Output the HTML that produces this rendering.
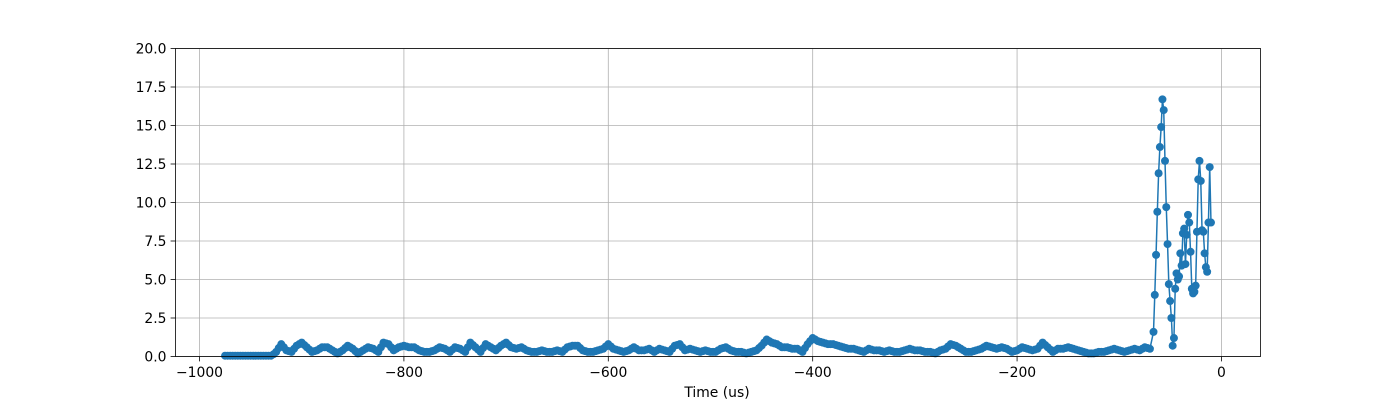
<!DOCTYPE html>
<html><head><meta charset="utf-8"><style>
body{margin:0;background:#fff}
svg text{font-family:"DejaVu Sans","Liberation Sans",sans-serif;font-size:13.9px;fill:#000}
</style></head><body>
<svg id="chart" width="1400" height="400" xmlns="http://www.w3.org/2000/svg">
<rect width="1400" height="400" fill="#fff"/>
<g id="grid"></g>
<g id="series"></g>
<rect x="175.5" y="48.5" width="1085" height="308" fill="none" stroke="#000" stroke-width="0.8"/>
<g id="ticks"></g>
<text x="717" y="397" text-anchor="middle">Time (us)</text>
</svg>
<script>
const baseStart = -975, baseStep = 2.5;
const baseValues = [0.05,0.05,0.05,0.05,0.05,0.05,0.05,0.05,0.05,0.05,0.05,0.05,0.05,0.05,0.05,0.05,0.05,0.05,0.05,0.15,
0.3,0.55,0.8,0.6,0.4,0.35,0.3,0.5,0.7,0.8,0.9,0.75,0.6,0.45,0.3,0.35,0.4,0.5,0.6,0.6,0.6,0.5,0.4,0.3,0.2,0.3,0.4,0.55,0.7,0.6,0.5,0.35,0.2,0.3,0.4,0.5,0.6,0.55,0.5,0.4,0.3,0.6,0.9,0.85,0.8,0.6,0.4,0.5,0.6,0.65,0.7,0.65,0.6,0.6,0.6,0.5,0.4,0.35,0.3,0.3,0.3,0.35,0.4,0.5,0.6,0.55,0.5,0.4,0.3,0.45,0.6,0.55,0.5,0.4,0.3,0.6,0.9,0.75,0.6,0.45,0.3,0.55,0.8,0.7,0.6,0.5,0.4,0.55,0.7,0.8,0.9,0.75,0.6,0.55,0.5,0.55,0.6,0.5,0.4,0.35,0.3,0.3,0.3,0.35,0.4,0.35,0.3,0.3,0.3,0.35,0.4,0.35,0.3,0.45,0.6,0.65,0.7,0.7,0.7,0.55,0.4,0.35,0.3,0.3,0.3,0.35,0.4,0.45,0.5,0.65,0.8,0.65,0.5,0.45,0.4,0.35,0.3,0.35,0.4,0.5,0.6,0.5,0.4,0.4,0.4,0.45,0.5,0.4,0.3,0.4,0.5,0.45,0.4,0.35,0.3,0.5,0.7,0.75,0.8,0.6,0.4,0.45,0.5,0.45,0.4,0.35,0.3,0.35,0.4,0.35,0.3,0.3,0.3,0.4,0.5,0.55,0.6,0.5,0.4,0.35,0.3,0.3,0.3,0.25,0.2,0.25,0.3,0.35,0.4,0.55,0.7,0.9,1.1,1.0,0.9,0.85,0.8,0.7,0.6,0.6,0.6,0.55,0.5,0.5,0.5,0.4,0.3,0.55,0.8,1.0,1.2,1.1,1.0,0.95,0.9,0.85,0.8,0.8,0.8,0.75,0.7,0.65,0.6,0.55,0.5,0.5,0.5,0.45,0.4,0.35,0.3,0.4,0.5,0.45,0.4,0.4,0.4,0.35,0.3,0.35,0.4,0.35,0.3,0.3,0.3,0.35,0.4,0.45,0.5,0.45,0.4,0.4,0.4,0.35,0.3,0.3,0.3,0.25,0.2,0.3,0.4,0.45,0.5,0.65,0.8,0.75,0.7,0.6,0.5,0.4,0.3,0.3,0.3,0.35,0.4,0.45,0.5,0.6,0.7,0.65,0.6,0.55,0.5,0.55,0.6,0.55,0.5,0.4,0.3,0.35,0.4,0.5,0.6,0.55,0.5,0.45,0.4,0.45,0.5,0.7,0.9,0.75,0.6,0.45,0.3,0.4,0.5,0.5,0.5,0.55,0.6,0.55,0.5,0.45,0.4,0.35,0.3,0.25,0.2,0.2,0.2,0.25,0.3,0.3,0.3,0.35,0.4,0.45,0.5,0.45,0.4,0.35,0.3,0.35,0.4,0.45,0.5,0.45,0.4,0.5,0.6,0.55,0.5];
const peakTimes = [-66.5,-65.25,-64,-62.75,-61.5,-60.25,-59,-57.75,-56.5,-55.25,-54,-52.75,-51.5,-50.25,-49,-47.75,-46.5,-45.25,-44,-42.75,-41.5,-40.25,-39,-37.75,-36.5,-35.25,-34,-32.75,-31.5,-30.25,-29,-27.75,-26.5,-25.25,-24,-22.75,-21.5,-20.25,-19,-17.75,-16.5,-15.25,-14,-12.75,-11.5,-10.25];
const peakValues = [1.6,4.0,6.6,9.4,11.9,13.6,14.9,16.7,16.0,12.7,9.7,7.3,4.7,3.6,2.5,0.7,1.2,4.4,5.4,5.0,5.2,6.7,5.9,8.0,8.3,6.0,7.9,9.2,8.7,6.8,4.4,4.1,4.2,4.6,8.1,11.5,12.7,11.4,8.2,8.1,6.7,5.8,5.5,8.7,12.3,8.7];
const xTicks = [-1000,-800,-600,-400,-200,0];
const yTicks = [0,2.5,5,7.5,10,12.5,15,17.5,20];

const X0=175.5,X1=1260.5,Y0=356.5,Y1=48.5,xmin=-1023.5,xmax=38.2,ymin=0,ymax=20;
const sx=v=>X0+(v-xmin)/(xmax-xmin)*(X1-X0);
const sy=v=>Y0-(v-ymin)/(ymax-ymin)*(Y0-Y1);
const NS='http://www.w3.org/2000/svg';
function mk(tag,parent){const e=document.createElementNS(NS,tag);document.getElementById(parent).appendChild(e);return e;}
xTicks.forEach(t=>{
  const g=mk('line','grid');g.setAttribute('x1',sx(t));g.setAttribute('x2',sx(t));g.setAttribute('y1',Y1);g.setAttribute('y2',Y0);g.setAttribute('stroke','#b0b0b0');g.setAttribute('stroke-width','0.8');
  
  
  const k=mk('line','ticks');k.setAttribute('x1',sx(t));k.setAttribute('x2',sx(t));k.setAttribute('y1',Y0);k.setAttribute('y2',Y0+4.9);k.setAttribute('stroke','#000');k.setAttribute('stroke-width','0.8');
  
  
  const l=mk('text','ticks');l.setAttribute('x',sx(t));l.setAttribute('y',Y0+20.5);l.setAttribute('text-anchor','middle');l.textContent=t<0?'\u2212'+(-t):String(t);
  
  
});
yTicks.forEach(t=>{
  const g=mk('line','grid');g.setAttribute('x1',X0);g.setAttribute('x2',X1);g.setAttribute('y1',sy(t));g.setAttribute('y2',sy(t));g.setAttribute('stroke','#b0b0b0');g.setAttribute('stroke-width','0.8');
  
  
  const k=mk('line','ticks');k.setAttribute('x1',X0-4.9);k.setAttribute('x2',X0);k.setAttribute('y1',sy(t));k.setAttribute('y2',sy(t));k.setAttribute('stroke','#000');k.setAttribute('stroke-width','0.8');
  
  
  const l=mk('text','ticks');l.setAttribute('x',X0-9);l.setAttribute('y',sy(t)+5);l.setAttribute('text-anchor','end');l.textContent=t.toFixed(1);
  
  
});
const pts=[];
baseValues.forEach((v,i)=>pts.push([baseStart+i*baseStep,v]));
peakValues.forEach((v,i)=>pts.push([peakTimes[i],v]));
const line=mk('polyline','series');
line.setAttribute('points',pts.map(p=>sx(p[0])+','+sy(p[1])).join(' '));
line.setAttribute('fill','none');line.setAttribute('stroke','#1f77b4');line.setAttribute('stroke-width','1.5');


pts.forEach(p=>{
  const c=mk('circle','series');c.setAttribute('cx',sx(p[0]));c.setAttribute('cy',sy(p[1]));c.setAttribute('r','4');c.setAttribute('fill','#1f77b4');
  
  
});
</script>
</body></html>
